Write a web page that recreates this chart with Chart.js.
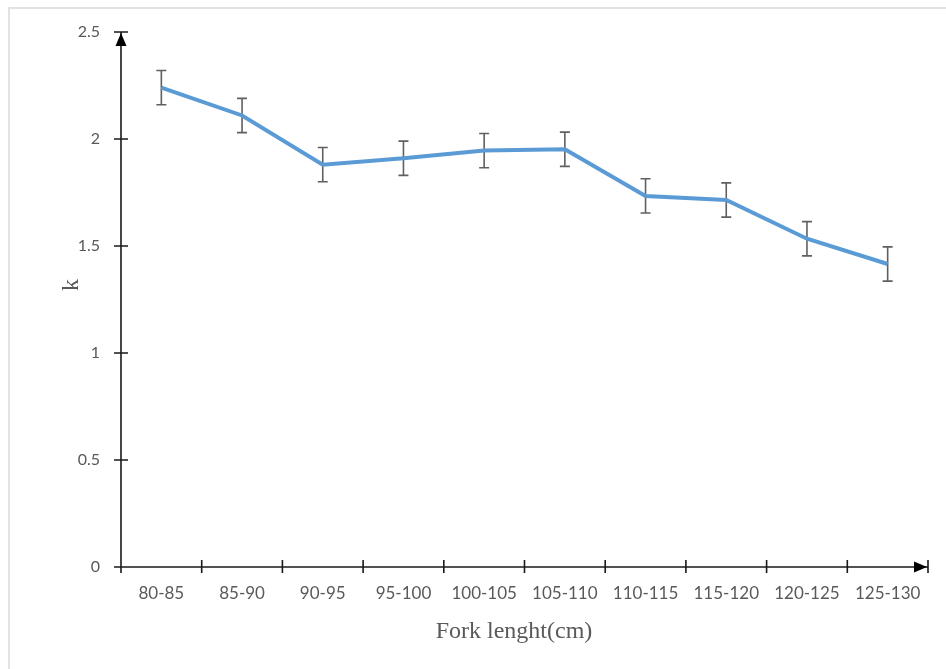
<!DOCTYPE html>
<html>
<head>
<meta charset="utf-8">
<script src="https://cdn.jsdelivr.net/npm/chart.js@4/dist/chart.umd.min.js"></script>
<style>
  html, body { margin: 0; padding: 0; background: #ffffff; }
  #wrap { position: relative; width: 946px; height: 669px; overflow: hidden; }
  #frame { position: absolute; left: 8px; top: 7px; width: 1000px; height: 720px;
           border-left: 2px solid #e2e2e2; border-top: 2px solid #e2e2e2; }
  #c { position: absolute; left: 0; top: 0; }
</style>
</head>
<body>
<div id="wrap">
  <div id="frame"></div>
  <canvas id="c" width="946" height="669"></canvas>
</div>
<script>
// Condition factor k by fork length class
const lengthClasses = ['80-85', '85-90', '90-95', '95-100', '100-105', '105-110', '110-115', '115-120', '120-125', '125-130'];
const kMean = [2.24, 2.11, 1.88, 1.91, 1.946, 1.952, 1.734, 1.715, 1.534, 1.416];
const kError = [0.08, 0.08, 0.08, 0.08, 0.08, 0.08, 0.08, 0.08, 0.08, 0.08];
const yTicks = [0, 0.5, 1, 1.5, 2, 2.5];
const xTitle = 'Fork lenght(cm)';
const yTitle = 'k';

const axisColor = '#1a1a1a';
const textGray = '#595959';

// Error bars (drawn beneath the line)
const errorBars = {
  id: 'errorBars',
  beforeDatasetsDraw(chart) {
    const { ctx, scales: { x, y } } = chart;
    ctx.save();
    ctx.strokeStyle = '#606060';
    ctx.lineWidth = 1.6;
    kMean.forEach((v, i) => {
      const px = x.getPixelForValue(i);
      const top = y.getPixelForValue(v + kError[i]);
      const bot = y.getPixelForValue(v - kError[i]);
      ctx.beginPath();
      ctx.moveTo(px, top); ctx.lineTo(px, bot);
      ctx.moveTo(px - 5, top); ctx.lineTo(px + 5, top);
      ctx.moveTo(px - 5, bot); ctx.lineTo(px + 5, bot);
      ctx.stroke();
    });
    ctx.restore();
  }
};

// Axis lines with crossing tick marks, arrow heads and axis titles
const axisDecor = {
  id: 'axisDecor',
  afterDraw(chart) {
    const { ctx, chartArea: a, scales: { x, y } } = chart;
    const x0 = a.left, y0 = a.bottom;
    ctx.save();
    ctx.strokeStyle = axisColor;
    ctx.fillStyle = '#000';
    ctx.lineWidth = 1.6;
    ctx.beginPath();
    ctx.moveTo(x0, a.top); ctx.lineTo(x0, y0);
    ctx.moveTo(x0, y0); ctx.lineTo(a.right, y0);
    y.ticks.forEach(t => {
      const py = y.getPixelForValue(t.value);
      ctx.moveTo(x0 - 7, py); ctx.lineTo(x0 + 7, py);
    });
    for (let i = 0; i <= lengthClasses.length; i++) {
      const px = x.getPixelForValue(i - 0.5);
      ctx.moveTo(px, y0 - 7); ctx.lineTo(px, y0 + 6);
    }
    ctx.stroke();
    ctx.beginPath();
    ctx.moveTo(x0, a.top + 1);
    ctx.lineTo(x0 - 5.5, a.top + 14);
    ctx.lineTo(x0 + 5.5, a.top + 14);
    ctx.closePath();
    ctx.fill();
    ctx.beginPath();
    ctx.moveTo(a.right - 1, y0);
    ctx.lineTo(a.right - 14, y0 - 5.5);
    ctx.lineTo(a.right - 14, y0 + 5.5);
    ctx.closePath();
    ctx.fill();

    // axis titles
    ctx.fillStyle = textGray;
    ctx.font = '24px "Liberation Serif"';
    ctx.textAlign = 'center';
    ctx.textBaseline = 'middle';
    ctx.fillText(xTitle, 514, 632);
    ctx.translate(72, 285);
    ctx.rotate(-Math.PI / 2);
    ctx.fillText(yTitle, 0, 0);
    ctx.restore();
  }
};

new Chart(document.getElementById('c'), {
  type: 'line',
  data: {
    labels: lengthClasses,
    datasets: [{
      data: kMean,
      borderColor: '#5B9BD5',
      borderWidth: 4,
      pointRadius: 0,
      tension: 0,
      fill: false
    }]
  },
  options: {
    responsive: false,
    animation: false,
    layout: { padding: { left: 0, top: 32, right: 18, bottom: 0 } },
    plugins: { legend: { display: false }, tooltip: { enabled: false } },
    scales: {
      x: {
        offset: true,
        grid: { display: true, offset: true, drawOnChartArea: false, drawTicks: true, tickLength: 7, color: 'rgba(0,0,0,0)' },
        border: { display: false },
        ticks: { color: textGray, font: { family: 'Lato', size: 17 }, padding: 9, maxRotation: 0, autoSkip: false },
        afterFit(s) { s.height = 102; }
      },
      y: {
        min: 0, max: 2.5,
        afterBuildTicks(s) { s.ticks = yTicks.map(v => ({ value: v })); },
        grid: { display: true, drawOnChartArea: false, drawTicks: true, tickLength: 7, color: 'rgba(0,0,0,0)' },
        border: { display: false },
        ticks: { color: textGray, font: { family: 'Lato', size: 16 }, padding: 14,
                 callback: v => String(v) },
        afterFit(s) { s.width = 121; }
      }
    }
  },
  plugins: [errorBars, axisDecor]
});
</script>
</body>
</html>
